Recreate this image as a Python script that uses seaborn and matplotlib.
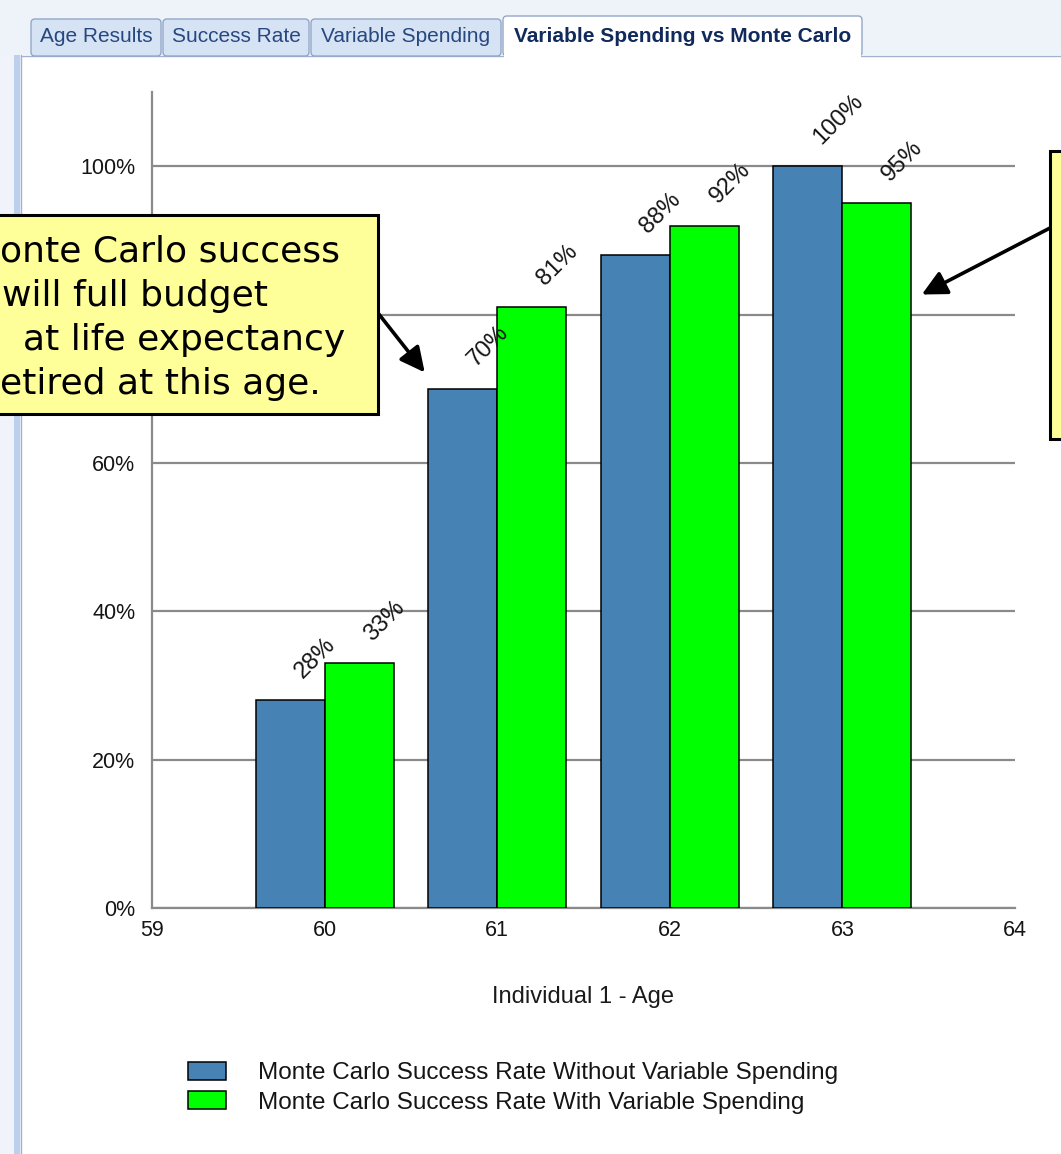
import matplotlib
matplotlib.use("Agg")
import matplotlib.pyplot as plt
from matplotlib.patches import Rectangle, FancyBboxPatch
from matplotlib.transforms import Affine2D
import pandas as pd
import seaborn as sns

# ---------------- data ----------------
ages = [60, 61, 62, 63]
rate_without = [28, 70, 88, 100]
rate_with = [33, 81, 92, 95]
series_names = ["Monte Carlo Success Rate Without Variable Spending",
                "Monte Carlo Success Rate With Variable Spending"]
series_colors = ["#4682B4", "#00FF00"]
x_ticks = [59, 60, 61, 62, 63, 64]
y_ticks = [0, 20, 40, 60, 80, 100]
y_tick_labels = [f"{v}%" for v in y_ticks]
x_label = "Individual 1 - Age"
tab_labels = ["Age Results", "Success Rate", "Variable Spending",
              "Variable Spending vs Monte Carlo"]
callout_lines = ["onte Carlo success", "will full budget",
                 "at life expectancy", "etired at this age."]

df = pd.DataFrame({
    "age": ages * 2,
    "rate": rate_without + rate_with,
    "series": [series_names[0]] * len(ages) + [series_names[1]] * len(ages),
})

# ---------------- figure ----------------
sns.set_style("white")
plt.rcParams["font.family"] = ["Liberation Sans", "DejaVu Sans"]

W, H = 1061, 1154
fig = plt.figure(figsize=(W / 100, H / 100), dpi=100)
fig.patch.set_facecolor("white")
# transform from image pixel coords (origin top-left) to figure
T = Affine2D().scale(1.0 / W, -1.0 / H).translate(0, 1) + fig.transFigure

ax = fig.add_axes([152 / W, 1 - 908 / H, 863 / W, 816 / H])
ax.set_facecolor("white")

sns.barplot(data=df, x="age", y="rate", hue="series", hue_order=series_names,
            palette=series_colors, saturation=1, native_scale=True,
            width=0.8, gap=0, edgecolor="black", linewidth=1.1,
            errorbar=None, ax=ax, zorder=3)

ax.set_xlim(59, 64)
ax.set_ylim(0, 110)
ax.set_xticks(x_ticks)
ax.set_xticklabels([str(v) for v in x_ticks])
ax.set_yticks(y_ticks)
ax.set_yticklabels(y_tick_labels)
ax.set_ylabel("")
ax.set_xlabel(x_label, fontsize=17, color="#1a1a1a")
ax.xaxis.set_label_coords(0.5, -0.095)

grey = "#8a8a8a"
ax.set_axisbelow(True)
ax.yaxis.grid(True, color=grey, linewidth=1.6)
ax.xaxis.grid(False)
for s in ["top", "right"]:
    ax.spines[s].set_visible(False)
for s in ["left", "bottom"]:
    ax.spines[s].set_color(grey)
    ax.spines[s].set_linewidth(1.6)
ax.tick_params(axis="both", direction="out", length=7, width=1.6, color=grey,
               labelsize=15.5, labelcolor="#151515")
ax.tick_params(axis="x", pad=2)
ax.tick_params(axis="y", pad=5)
# the 80% label is hidden behind the callout box in the reference
for lbl in ax.get_yticklabels():
    if lbl.get_text() == "80%":
        lbl.set_visible(False)

# value labels, rotated 45 degrees
for cont in ax.containers:
    for bar in cont:
        h = bar.get_height()
        ax.annotate(f"{h:.0f}%", xy=(bar.get_x() + bar.get_width() / 2, h),
                    xytext=(9.5, 15.5), textcoords="offset points",
                    rotation=45, rotation_mode="anchor", ha="left",
                    va="baseline", fontsize=17, color="#151515")

# legend
sns.move_legend(ax, "upper left", bbox_to_anchor=(188 / W, 1 - 1062 / H),
                bbox_transform=fig.transFigure, frameon=False, title=None,
                fontsize=17.5, handlelength=1.57, handleheight=0.75,
                handletextpad=1.32, labelspacing=0.28, borderpad=0,
                borderaxespad=0)
leg = ax.get_legend()
for hnd in leg.legend_handles:
    hnd.set_edgecolor("black")
    hnd.set_linewidth(1.1)
for t in leg.get_texts():
    t.set_color("#151515")

# ---------------- window chrome (tabs, borders) ----------------
fig.patches.append(Rectangle((0, 0), W, 55, transform=T, facecolor="#eef3fa",
                             edgecolor="none", zorder=0.1))
fig.patches.append(Rectangle((0, 55), 21, H - 55, transform=T,
                             facecolor="#f0f4fa", edgecolor="none", zorder=0.1))
fig.patches.append(Rectangle((14, 55), 6, H - 55, transform=T,
                             facecolor="#bcd0ee", edgecolor="none", zorder=0.2))
fig.lines.append(plt.Line2D([20.5, 20.5], [55, H], transform=T,
                            color="#9fb2cf", lw=1.0, zorder=0.3))
fig.lines.append(plt.Line2D([20.5, W], [55.5, 55.5], transform=T,
                             color="#9fb2cf", lw=1.0, zorder=0.3))

tab_x = [(31, 161), (163, 309), (311, 501), (503, 862)]
for i, ((x0, x1), lab) in enumerate(zip(tab_x, tab_labels)):
    sel = i == len(tab_labels) - 1
    top = 16 if sel else 19
    fig.patches.append(FancyBboxPatch(
        (x0, top), x1 - x0, 56 - top,
        boxstyle="round,pad=0,rounding_size=4", transform=T,
        facecolor="white" if sel else "#d6e3f5", edgecolor="#93a7c8",
        lw=1.0, zorder=0.4))
    if sel:
        fig.patches.append(Rectangle((x0 + 1, 52), x1 - x0 - 2, 6, transform=T,
                                     facecolor="white", edgecolor="none",
                                     zorder=0.5))
    fig.text((x0 + x1) / 2, 36, lab, transform=T, ha="center", va="center",
             fontsize=15, color="#112a5c" if sel else "#27477f",
             fontweight="bold" if sel else "normal", zorder=0.6)

# ---------------- callouts ----------------
callout_fill = "#FFFF99"
fig.patches.append(Rectangle((-10, 215), 388, 199, transform=T,
                             facecolor=callout_fill, edgecolor="black",
                             lw=2.2, zorder=5))
fig.patches.append(Rectangle((1050, 151), 40, 288, transform=T,
                             facecolor=callout_fill, edgecolor="black",
                             lw=2.2, zorder=5))
line_x = [0, 2, 23, 0]
line_y = [262, 306, 350, 394]
for s, lx, ly in zip(callout_lines, line_x, line_y):
    fig.text(lx, ly, s, transform=T, ha="left", va="baseline", fontsize=26,
             family="DejaVu Sans", color="black", zorder=6)

arrow_kw = dict(arrowstyle="-|>,head_length=0.6,head_width=0.3",
                lw=2.6, color="black", shrinkA=0, shrinkB=0,
                mutation_scale=25)
ax.annotate("", xy=(60.58, 72.2), xycoords="data",
            xytext=(378 / W, 1 - 313 / H), textcoords="figure fraction",
            arrowprops=arrow_kw, annotation_clip=False)
ax.annotate("", xy=(63.46, 82.7), xycoords="data",
            xytext=(1050 / W, 1 - 228 / H), textcoords="figure fraction",
            arrowprops=arrow_kw, annotation_clip=False)

fig.savefig("out.png", dpi=100, facecolor="white")
